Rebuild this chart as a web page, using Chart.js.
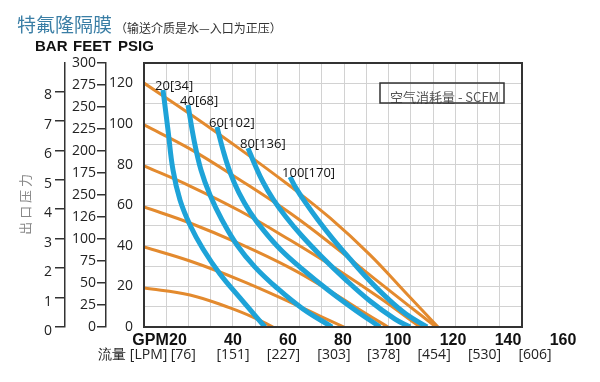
<!DOCTYPE html>
<html><head><meta charset="utf-8">
<script src="https://cdn.jsdelivr.net/npm/chart.js@4.4.1/dist/chart.umd.min.js"></script>
<style>html,body{margin:0;padding:0;background:#fff;}canvas{display:block;}</style>
</head><body>
<canvas id="c" width="600" height="382"></canvas>
<script>
// ---- texts ----
const titleMain = '特氟隆隔膜';
const titleNote = '（输送介质是水—入口为正压）';
const unitNames = ['BAR', 'FEET', 'PSIG'];
const pressureAxisTitle = '出 口 压 力';
const legendText = '空气消耗量 - SCFM';

// ---- axis ticks ----
const barTicks = [0, 1, 2, 3, 4, 5, 6, 7, 8];
const feetTicks = [0, 25, 50, 75, 100, 125, 150, 175, 200, 225, 250, 275, 300];
const feetLabels = ['0', '25', '50', '75', '100', '126', '250', '175', '200', '225', '250', '275', '300'];
const psigTicks = [0, 10, 20, 30, 40, 50, 60, 70, 80, 90, 100, 110, 120, 130];
const psigLabels = ['0', '', '20', '', '40', '', '60', '', '80', '', '100', '', '120', ''];
const gpmTicks = [10, 20, 40, 60, 80, 100, 120, 140, 160];
const gpmLabels = ['GPM', '20', '40', '60', '80', '100', '120', '140', '160'];
const lpmTicks = [0, 76, 151, 227, 303, 378, 454, 530, 606];
const lpmLabels = ['流量 [LPM]', '[76]', '[151]', '[227]', '[303]', '[378]', '[454]', '[530]', '[606]'];

// ---- air consumption curves: SCFM [Nm3/h]; x = flow GPM, y = outlet PSIG ----
const scfm = [20, 40, 60, 80, 100];
const scfmMetric = [34, 68, 102, 136, 170];
const air20X = [14.55, 16.36, 18.18, 20.73, 24.36, 29.09, 35.27, 42.55, 51.64];
const air20Y = [116.7, 97.0, 77.3, 62.5, 50.2, 38.4, 26.1, 14.3, 0];
const air40X = [23.64, 25.82, 28.36, 31.64, 36.0, 41.45, 48.0, 56.0, 65.45, 76.0];
const air40Y = [109.3, 92.1, 77.3, 65.0, 52.7, 40.4, 29.5, 19.2, 8.9, 0];
const air60X = [34.18, 36.36, 38.91, 42.18, 46.18, 51.27, 57.45, 65.09, 74.55, 84.36, 93.45];
const air60Y = [98.5, 87.2, 76.3, 66.0, 56.6, 47.3, 37.9, 28.6, 18.2, 8.4, 0];
const air80X = [45.45, 48.0, 50.91, 54.55, 59.27, 65.09, 72.36, 80.73, 89.82, 98.91, 104.36];
const air80Y = [88.1, 79.8, 71.4, 63.0, 54.2, 44.8, 34.5, 23.6, 12.8, 3.9, 0];
const air100X = [60.73, 62.91, 66.18, 70.91, 76.36, 82.55, 89.09, 96.0, 102.91, 110.55];
const air100Y = [73.9, 68.4, 61.6, 52.7, 43.3, 33.5, 23.6, 14.3, 6.4, 0];

// ---- air inlet pressure curves (PSIG) ----
const inletPsi = [120, 100, 80, 60, 40, 20];
const in120X = [7.64, 24.36, 42.55, 60.73, 75.27, 89.82, 102.55, 114.55];
const in120Y = [120.1, 104.9, 87.6, 69.4, 53.7, 35.5, 17.2, 0];
const in100X = [7.64, 24.36, 42.55, 60.73, 77.09, 91.64, 103.64, 113.82];
const in100Y = [99.5, 87.7, 72.4, 56.1, 39.4, 23.6, 10.8, 0];
const in80X = [7.64, 24.36, 42.55, 60.73, 77.09, 93.45, 108.0];
const in80Y = [79.3, 69.4, 57.1, 42.8, 29.1, 14.3, 0];
const in60X = [7.64, 24.36, 42.55, 60.73, 75.27, 88.0, 96.36];
const in60Y = [59.1, 51.2, 40.9, 29.1, 17.7, 6.9, 0];
const in40X = [7.64, 24.36, 42.55, 60.73, 71.64, 80.36];
const in40Y = [39.4, 32.5, 23.1, 12.3, 5.4, 0];
const in20X = [7.64, 24.36, 38.91, 48.0, 54.55];
const in20Y = [19.2, 15.8, 9.4, 4.4, 0];

const airX = [air20X, air40X, air60X, air80X, air100X];
const airY = [air20Y, air40Y, air60Y, air80Y, air100Y];
const inX = [in120X, in100X, in80X, in60X, in40X, in20X];
const inY = [in120Y, in100Y, in80Y, in60Y, in40Y, in20Y];

const BLUE = '#1ea3d8';
const ORANGE = '#e38a2e';
const NUM_FONT = '"Open Sans", "DejaVu Sans", sans-serif';
const CJK_FONT = '"Noto Sans CJK SC", sans-serif';

const toPts = (xs, ys) => xs.map((x, i) => ({ x, y: ys[i] }));

const datasets = [];
scfm.forEach((s, i) => datasets.push({
  label: s + '[' + scfmMetric[i] + ']',
  data: toPts(airX[i], airY[i]),
  borderColor: BLUE, borderWidth: 5, xAxisID: 'x', yAxisID: 'y'
}));
inletPsi.forEach((p, i) => datasets.push({
  label: p + ' PSIG',
  data: toPts(inX[i], inY[i]),
  borderColor: ORANGE, borderWidth: 3, xAxisID: 'x', yAxisID: 'y'
}));

const decor = {
  id: 'decor',
  afterDatasetsDraw(chart) {
    const { ctx, chartArea: a } = chart;
    ctx.save();
    ctx.strokeStyle = '#333';
    ctx.lineWidth = 2;
    ctx.strokeRect(a.left, a.top, a.right - a.left, a.bottom - a.top);
    // curve labels
    ctx.font = '13px ' + NUM_FONT;
    ctx.fillStyle = '#111';
    ctx.textAlign = 'left';
    ctx.textBaseline = 'middle';
    scfm.forEach((s, i) => {
      const p = chart.getDatasetMeta(i).data[0];
      ctx.fillText(s + '[' + scfmMetric[i] + ']', p.x - 8, p.y - 4);
    });
    // legend box
    const bx = a.left + 236, by = a.top + 20;
    ctx.font = '13px ' + CJK_FONT;
    ctx.fillStyle = '#555';
    ctx.fillText(legendText, bx + 10, by + 14);
    ctx.strokeStyle = '#333';
    ctx.lineWidth = 1.5;
    ctx.strokeRect(bx, by, 124, 20);
    ctx.restore();
  },
  afterDraw(chart) {
    const { ctx } = chart;
    ctx.save();
    ctx.textAlign = 'left';
    ctx.textBaseline = 'middle';
    ctx.font = '19px ' + CJK_FONT;
    ctx.fillStyle = '#3a7ea5';
    ctx.fillText(titleMain, 17, 25);
    ctx.font = '12px ' + CJK_FONT;
    ctx.fillStyle = '#333';
    ctx.fillText(titleNote, 115, 28);
    ctx.font = 'bold 15px "Liberation Sans", Arial, sans-serif';
    ctx.fillStyle = '#111';
    const ux = [35, 73, 118];
    unitNames.forEach((u, i) => ctx.fillText(u, ux[i], 47));
    ctx.restore();
  }
};

const setTicks = (vals) => (s) => { s.ticks = vals.map(v => ({ value: v })); };

new Chart(document.getElementById('c'), {
  type: 'line',
  data: { datasets },
  options: {
    responsive: false,
    animation: false,
    layout: { padding: { left: 0, right: 78, top: 63, bottom: 15 } },
    plugins: { legend: { display: false }, tooltip: { enabled: false } },
    elements: {
      point: { radius: 0 },
      line: { tension: 0.4, borderCapStyle: 'butt' }
    },
    scales: {
      xgrid: {
        type: 'linear', position: 'bottom', weight: 0, min: 0, max: 17,
        ticks: { display: false, stepSize: 1 },
        grid: { color: '#d2d2d2', drawTicks: false },
        border: { display: false },
        afterFit: s => { s.height = 0; }
      },
      x: {
        type: 'linear', position: 'bottom', weight: 1, min: 7.636, max: 145.09,
        afterBuildTicks: setTicks(gpmTicks),
        grid: { display: false, drawTicks: false },
        border: { display: false },
        ticks: {
          autoSkip: false, maxRotation: 0, minRotation: 0, padding: 4, color: '#111',
          font: { family: '"Liberation Sans", Arial, sans-serif', size: 16, weight: 'bold' },
          callback: (v, i) => gpmLabels[i]
        },
        afterFit: s => { s.height = 20; }
      },
      xl: {
        type: 'linear', position: 'bottom', weight: 2, min: 16.9, max: 586.4,
        afterBuildTicks: setTicks(lpmTicks),
        grid: { display: false, drawTicks: false },
        border: { display: false },
        ticks: {
          autoSkip: false, maxRotation: 0, minRotation: 0, padding: 0, color: '#222',
          font: { family: NUM_FONT, size: 14 },
          callback: (v, i) => lpmLabels[i]
        },
        afterFit: s => { s.height = 20; }
      },
      y: {
        type: 'linear', position: 'left', weight: 1, min: 0, max: 130,
        afterBuildTicks: setTicks(psigTicks),
        grid: { color: '#d2d2d2', drawTicks: false },
        border: { display: false },
        ticks: {
          padding: 11, color: '#222', font: { family: NUM_FONT, size: 14 },
          callback: (v, i) => psigLabels[i]
        },
        afterFit: s => { s.width = 38; }
      },
      feet: {
        type: 'linear', position: 'left', weight: 2, min: 0, max: 300,
        afterBuildTicks: setTicks(feetTicks),
        grid: { drawOnChartArea: false, tickLength: 9, color: '#333', lineWidth: 1.5 },
        border: { display: true, color: '#333', width: 1.5 },
        ticks: {
          padding: 1, color: '#222', font: { family: NUM_FONT, size: 14 },
          callback: (v, i) => feetLabels[i]
        },
        afterFit: s => { s.width = 41; }
      },
      bar: {
        type: 'linear', position: 'left', weight: 3, min: 0, max: 130 / 14.5038,
        afterBuildTicks: setTicks(barTicks),
        grid: { drawOnChartArea: false, tickLength: 10, color: '#333', lineWidth: 1.5 },
        border: { display: true, color: '#333', width: 1.5 },
        ticks: {
          padding: 3, labelOffset: 4, color: '#222', font: { family: NUM_FONT, size: 14 },
          callback: (v, i) => String(barTicks[i])
        },
        title: {
          display: true, text: pressureAxisTitle + '\u3000  ', color: '#888',
          font: { family: CJK_FONT, size: 13 }, padding: { top: 17, bottom: 0 }
        },
        afterFit: s => { s.width = 65; }
      }
    }
  },
  plugins: [decor]
});
</script>
</body></html>
